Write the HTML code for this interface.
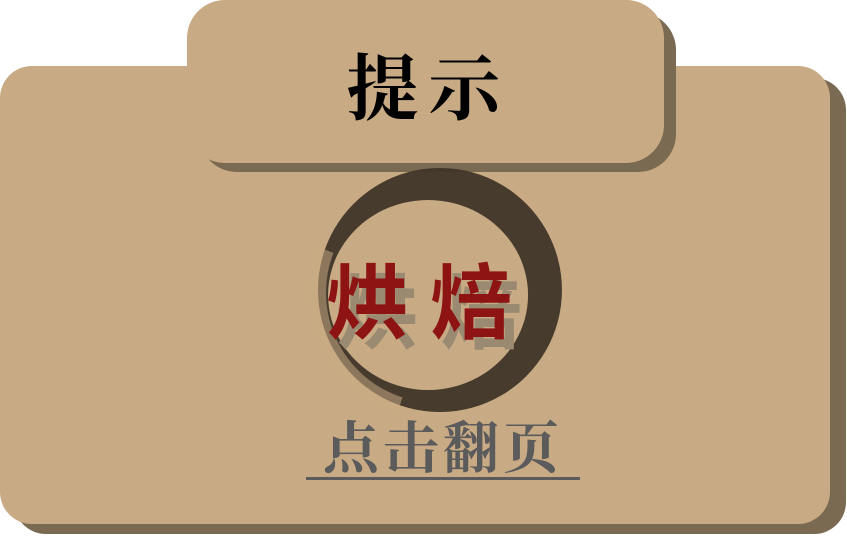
<!DOCTYPE html>
<html><head><meta charset="utf-8"><style>
html,body{margin:0;padding:0;background:#fff;}
body{width:847px;height:536px;position:relative;overflow:hidden;font-family:"Liberation Serif","Noto Serif CJK SC",serif;}
.abs{position:absolute;}
</style></head><body>
<div class="abs" style="left:14px;top:78px;width:832px;height:456px;background:#7a6a52;border-radius:32px;"></div>
<div class="abs" style="left:0;top:66px;width:830px;height:458px;background:#c8aa84;border-radius:32px;"></div>
<div class="abs" style="left:199px;top:12px;width:477px;height:160px;background:#7a6a52;border-radius:38px;"></div>
<div class="abs" style="left:187px;top:0;width:477px;height:163px;background:#c8aa84;border-radius:38px;"></div>
<div class="abs" style="left:190px;top:48px;width:477px;text-align:center;font-size:72px;line-height:84px;color:#000;font-weight:bold;letter-spacing:10px;">提示</div>
<svg class="abs" style="left:0;top:0" width="847" height="536">
<path d="M440,168 A122,122 0 1,1 439.9,168 Z M428,200 A100,95 0 1,0 428.1,200 Z" fill="#3f3528" fill-rule="evenodd" opacity="0.95"/>
<path d="M326,250 A118,118 0 0,0 400,405" fill="none" stroke="#c8aa84" stroke-width="16" opacity="0.55"/>
</svg>
<div class="abs" style="left:336px;top:262px;font-size:82px;line-height:90px;color:#9a8a72;font-weight:bold;font-family:'Noto Sans CJK SC',sans-serif;letter-spacing:22px;">烘焙</div>
<div class="abs" style="left:326px;top:252px;font-size:82px;line-height:90px;color:#8e1414;font-weight:bold;font-family:'Noto Sans CJK SC',sans-serif;letter-spacing:22px;">烘焙</div>
<div class="abs" style="left:306px;top:418px;width:274px;text-align:center;font-size:56px;line-height:64px;color:#5b5b5b;font-weight:bold;letter-spacing:4px;">点击翻页</div>
<div class="abs" style="left:306px;top:477px;width:274px;height:3px;background:#5b5b5b;"></div>
</body></html>
